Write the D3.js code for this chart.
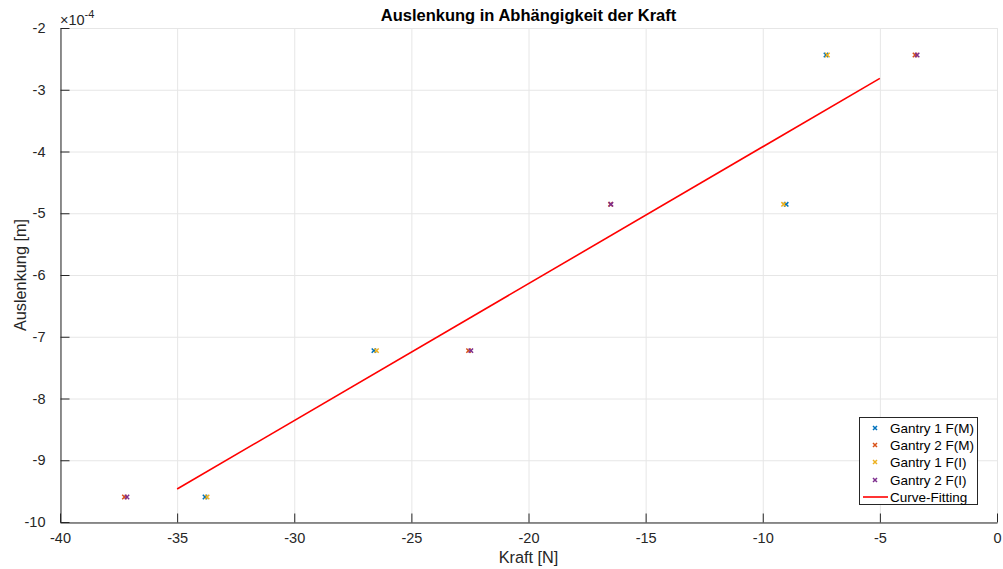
<!DOCTYPE html>
<html><head><meta charset="utf-8">
<script src="https://cdn.jsdelivr.net/npm/d3@7"></script>
<style>body{margin:0;background:#fff}svg{display:block;font-family:"Liberation Sans",Arial,sans-serif}</style>
</head><body>
<svg id="c" width="1003" height="569"></svg>
<script>
// Data (deflection in units of 1e-4 m)
const seriesNames = ["Gantry 1 F(M)", "Gantry 2 F(M)", "Gantry 1 F(I)", "Gantry 2 F(I)"];
const seriesColors = ["#0072bd", "#d95319", "#edb120", "#7e2f8e"];
const deflection = [-9.595, -7.225, -4.855, -2.437];
const g1FM = [-33.81, -26.60, -9.00, -7.30];
const g2FM = [-37.25, -22.56, -16.50, -3.50];
const g1FI = [-33.72, -26.49, -9.11, -7.24];
const g2FI = [-37.14, -22.46, -16.48, -3.41];
const fitX = [-35, -5];
const fitY = [-9.466, -2.815];
const xTicks = [-40, -35, -30, -25, -20, -15, -10, -5, 0];
const yTicks = [-10, -9, -8, -7, -6, -5, -4, -3, -2];

const svg = d3.select("#c");
const L = 60, R = 997, T = 28, B = 522;
const x = d3.scaleLinear().domain([-40, 0]).range([L, R]);
const y = d3.scaleLinear().domain([-10, -2]).range([B, T]);
const txt = "#262626";

// grid
const grid = svg.append("g").attr("stroke", "#e6e6e6").attr("stroke-width", 1);
xTicks.forEach(t => grid.append("line").attr("x1", x(t)+0.5).attr("x2", x(t)+0.5).attr("y1", T).attr("y2", B));
yTicks.forEach(t => grid.append("line").attr("x1", L).attr("x2", R).attr("y1", y(t)+0.5).attr("y2", y(t)+0.5));

// axes
const fmt = d => String(d);
const xAxis = d3.axisBottom(x).tickValues(xTicks).tickSizeInner(-9).tickSizeOuter(0).tickPadding(18).tickFormat(fmt);
const yAxis = d3.axisLeft(y).tickValues(yTicks).tickSizeInner(-9).tickSizeOuter(0).tickPadding(15).tickFormat(fmt);
const gx = svg.append("g").attr("transform", `translate(0,${B+0.5})`).call(xAxis);
const gy = svg.append("g").attr("transform", `translate(${L+0.5},0)`).call(yAxis);
[gx, gy].forEach(g => {
  g.select(".domain").attr("stroke", txt);
  g.selectAll(".tick line").attr("stroke", txt);
  g.selectAll(".tick text").attr("fill", txt).attr("font-size", 14.5).attr("font-family", "Liberation Sans, Arial, sans-serif");
});
gx.selectAll(".tick text").attr("dy", "0.2em");

// exponent label
const ex = svg.append("text").attr("x", 60).attr("y", 25).attr("fill", txt).attr("font-size", 14.5);
ex.append("tspan").text("\u00d710");
ex.append("tspan").attr("dy", -7).attr("font-size", 11).text("-4");

// title and labels
svg.append("text").attr("x", (L+R)/2).attr("y", 21).attr("text-anchor", "middle").attr("font-weight", "bold").attr("font-size", 16.5).attr("fill", "#000").text("Auslenkung in Abhängigkeit der Kraft");
svg.append("text").attr("x", (L+R)/2).attr("y", 563).attr("text-anchor", "middle").attr("font-size", 16.3).attr("fill", txt).text("Kraft [N]");
svg.append("text").attr("transform", `translate(26,${(T+B)/2}) rotate(-90)`).attr("text-anchor", "middle").attr("font-size", 16.3).attr("fill", txt).text("Auslenkung [m]");

// fit line
svg.append("path").datum(fitX.map((v, i) => [v, fitY[i]]))
  .attr("d", d3.line().x(d => x(d[0])).y(d => y(d[1])))
  .attr("stroke", "#ff0000").attr("stroke-width", 1.6).attr("fill", "none");

// markers
const series = [g1FM, g2FM, g1FI, g2FI];
function cross(g, cx, cy, col, s) {
  g.append("path").attr("d", `M${cx-s},${cy-s}L${cx+s},${cy+s}M${cx-s},${cy+s}L${cx+s},${cy-s}`)
    .attr("stroke", col).attr("stroke-width", 1.5).attr("fill", "none");
}
series.forEach((xs, si) => {
  const g = svg.append("g");
  xs.forEach((v, i) => cross(g, x(v), y(deflection[i]), seriesColors[si], 2.2));
});

// legend
const lg = svg.append("g");
lg.append("rect").attr("x", 859.5).attr("y", 417.5).attr("width", 118).attr("height", 87).attr("fill", "#fff").attr("stroke", txt).attr("stroke-width", 1);
const rows = [428, 445, 462, 480, 497];
seriesNames.forEach((n, i) => {
  cross(lg, 875, rows[i], seriesColors[i], 2);
  lg.append("text").attr("x", 890).attr("y", rows[i]+5).attr("font-size", 13.5).attr("fill", "#000").text(n);
});
lg.append("line").attr("x1", 863).attr("x2", 888).attr("y1", rows[4]).attr("y2", rows[4]).attr("stroke", "#ff0000").attr("stroke-width", 1.6);
lg.append("text").attr("x", 890).attr("y", rows[4]+5).attr("font-size", 13.5).attr("fill", "#000").text("Curve-Fitting");
</script>
</body></html>
